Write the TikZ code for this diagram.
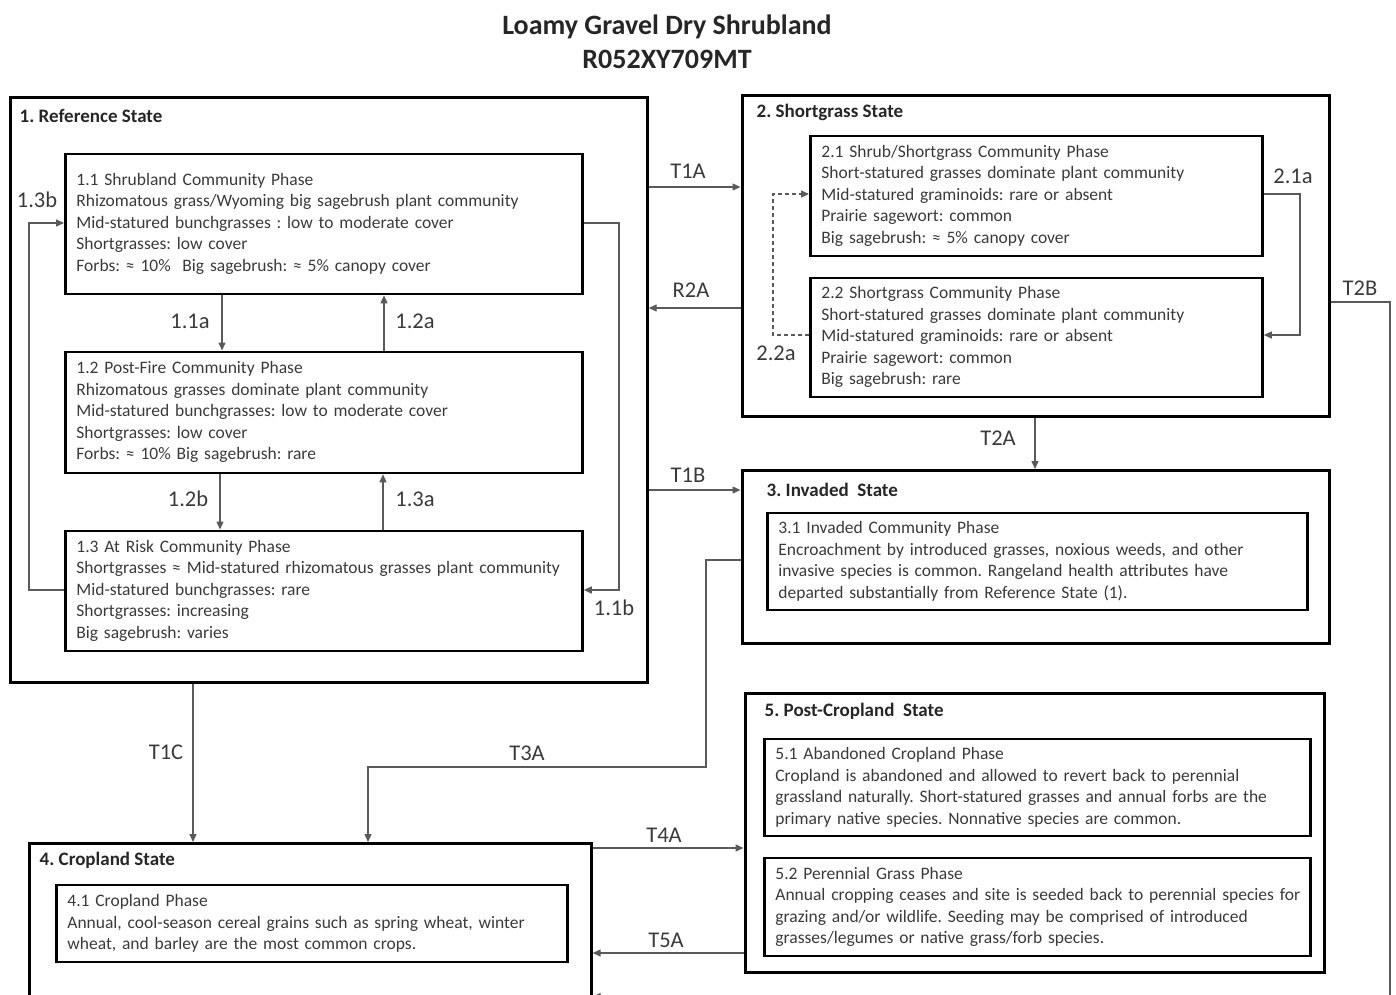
\documentclass[tikz,border=0pt]{standalone}
\usepackage{fontspec}
\setmainfont{Carlito}[WordSpace=0.55]
\newfontfamily\headfont{Carlito}
\usetikzlibrary{arrows.meta}
\definecolor{ink}{HTML}{3A3A3A}
\definecolor{wire}{HTML}{5A5A5A}
\tikzset{
  statebox/.style={draw=black,line width=3.2pt,anchor=north west,inner sep=0pt},
  phasebox/.style={draw=black,line width=2.8pt,anchor=north west,align=left,inner xsep=11pt,inner ysep=0pt,text=ink,font=\fontsize{17.5}{21.5}\selectfont},
  head/.style={anchor=west,inner sep=0pt,text=black!85,font=\headfont\fontsize{19}{22}\selectfont\bfseries},
  trans/.style={-{Triangle[length=8pt,width=7pt]},wire,line width=1.4pt},
  lbl/.style={text=ink,inner sep=0pt,font=\fontsize{22.5}{26}\selectfont},
}

\begin{document}
\frenchspacing
\begin{tikzpicture}[x=1pt,y=-1pt]
  \useasboundingbox (0,0) rectangle (1396,994);
  \clip (0,0) rectangle (1396,994);
  \node[align=center,text=black!85,font=\headfont\fontsize{28}{34}\selectfont\bfseries] (ttl) at (667,42) {Loamy Gravel Dry Shrubland\\R052XY709MT};

  \node[statebox,minimum width=637pt,minimum height=585pt] (s1) at (8.5,96) {};
  \node[statebox,minimum width=587pt,minimum height=321pt] (s2) at (740.5,94) {};
  \node[statebox,minimum width=587pt,minimum height=173pt] (s3) at (740.5,469) {};
  \node[statebox,minimum width=562pt,minimum height=180pt] (s4) at (27.5,842) {};
  \node[statebox,minimum width=579pt,minimum height=279pt] (s5) at (743.5,692) {};
  \node[head] (h1) at ([xshift=11pt,yshift=-20pt]s1.north west) {1. Reference State};
  \node[head] (h2) at ([xshift=16pt,yshift=-18pt]s2.north west) {2. Shortgrass State};
  \node[head] (h3) at ([xshift=26pt,yshift=-21pt]s3.north west) {3. Invaded~ State};
  \node[head] (h4) at ([xshift=12pt,yshift=-18pt]s4.north west) {4. Cropland State};
  \node[head] (h5) at ([xshift=21pt,yshift=-19pt]s5.north west) {5. Post-Cropland~ State};

  \node[phasebox,text width=495pt,minimum height=140pt] (p11) at (64,152.5) {1.1 Shrubland Community Phase\\Rhizomatous grass/Wyoming big sagebrush plant community\\Mid-statured bunchgrasses : low to moderate cover\\Shortgrasses: low cover\\Forbs: ≈ 10\%~ Big sagebrush: ≈ 5\% canopy cover};
  \node[phasebox,text width=495pt,minimum height=121pt] (p12) at (64,350.5) {1.2 Post-Fire Community Phase\\Rhizomatous grasses dominate plant community\\Mid-statured bunchgrasses: low to moderate cover\\Shortgrasses: low cover\\Forbs: ≈ 10\% Big sagebrush: rare};
  \node[phasebox,text width=495pt,minimum height=120pt] (p13) at (64,529.5) {1.3 At Risk Community Phase\\\mbox{Shortgrasses ≈ Mid-statured rhizomatous grasses plant community}\\Mid-statured bunchgrasses: rare\\Shortgrasses: increasing\\Big sagebrush: varies};
  \node[phasebox,text width=430pt,minimum height=120pt] (p21) at (809,134.5) {2.1 Shrub/Shortgrass Community Phase\\Short-statured grasses dominate plant community\\Mid-statured graminoids: rare or absent\\Prairie sagewort: common\\Big sagebrush: ≈ 5\% canopy cover};
  \node[phasebox,text width=430pt,minimum height=119pt] (p22) at (809,276.5) {2.2 Shortgrass Community Phase\\Short-statured grasses dominate plant community\\Mid-statured graminoids: rare or absent\\Prairie sagewort: common\\Big sagebrush: rare};
  \node[phasebox,text width=518pt,minimum height=97pt] (p31) at (766,511.5) {3.1 Invaded Community Phase\\Encroachment by introduced grasses, noxious weeds, and other\\invasive species is common. Rangeland health attributes have\\departed substantially from Reference State (1).};
  \node[phasebox,text width=489pt,minimum height=77pt] (p41) at (55,883.5) {4.1 Cropland Phase\\Annual, cool-season cereal grains such as spring wheat, winter\\wheat, and barley are the most common crops.};
  \node[phasebox,text width=524pt,minimum height=97pt] (p51) at (763,737.5) {5.1 Abandoned Cropland Phase\\Cropland is abandoned and allowed to revert back to perennial\\\mbox{grassland naturally. Short-statured grasses and annual forbs are the}\\primary native species. Nonnative species are common.};
  \node[phasebox,text width=524pt,minimum height=98pt] (p52) at (763,856.5) {5.2 Perennial Grass Phase\\\mbox{Annual cropping ceases and site is seeded back to perennial species for}\\grazing and/or wildlife. Seeding may be comprised of introduced\\grasses/legumes or native grass/forb species.};

  \draw[trans] (222,0 |- p11.south) -- (222,0 |- p12.north);
  \draw[trans] (384,0 |- p12.north) -- (384,0 |- p11.south);
  \draw[trans] (220,0 |- p12.south) -- (220,0 |- p13.north);
  \draw[trans] (383,0 |- p13.north) -- (383,0 |- p12.south);
  \draw[trans] (p13.west |- 0,590) -- (29,590) -- (29,223) -- (p11.west |- 0,223);
  \draw[trans] (p11.east |- 0,223) -- (619,223) -- (619,590) -- (p13.east |- 0,590);
  \draw[trans] (p21.east |- 0,194) -- (1300,194) -- (1300,335) -- (p22.east |- 0,335);
  \draw[trans,dashed,dash pattern=on 4pt off 3pt] (p22.west |- 0,335) -- (773,335) -- (773,194) -- (p21.west |- 0,194);
  \draw[trans] (s1.east |- 0,187) -- (s2.west |- 0,187);
  \draw[trans] (s2.west |- 0,308) -- (s1.east |- 0,308);
  \draw[trans] (s1.east |- 0,490) -- (s3.west |- 0,490);
  \draw[trans] (1035,0 |- s2.south) -- (1035,0 |- s3.north);
  \draw[trans] (s2.east |- 0,302) -- (1390,302) -- (1390,996.5) -- (s4.east |- 0,996.5);
  \draw[trans] (193,0 |- s1.south) -- (193,0 |- s4.north);
  \draw[trans] (s3.west |- 0,560) -- (706,560) -- (706,767) -- (368,767) -- (368,0 |- s4.north);
  \draw[trans] (s4.east |- 0,848) -- (s5.west |- 0,848);
  \draw[trans] (s5.west |- 0,953) -- (s4.east |- 0,953);

  \node[lbl] (l11a) at (190,321) {1.1a};
  \node[lbl] (l12a) at (415,321) {1.2a};
  \node[lbl] (l12b) at (188,499) {1.2b};
  \node[lbl] (l13a) at (415,499) {1.3a};
  \node[lbl] (l13b) at (37,200) {1.3b};
  \node[lbl] (l11b) at (614,608) {1.1b};
  \node[lbl] (l21a) at (1293,176) {2.1a};
  \node[lbl] (l22a) at (776,353) {2.2a};
  \node[lbl] (t1a) at (688,171) {T1A};
  \node[lbl] (r2a) at (691,290) {R2A};
  \node[lbl] (t2a) at (998,438) {T2A};
  \node[lbl] (t2b) at (1360,288) {T2B};
  \node[lbl] (t1b) at (688,475) {T1B};
  \node[lbl] (t3a) at (527,753) {T3A};
  \node[lbl] (t1c) at (166,752) {T1C};
  \node[lbl] (t4a) at (664,835) {T4A};
  \node[lbl] (t5a) at (666,940) {T5A};
\end{tikzpicture}
\end{document}
